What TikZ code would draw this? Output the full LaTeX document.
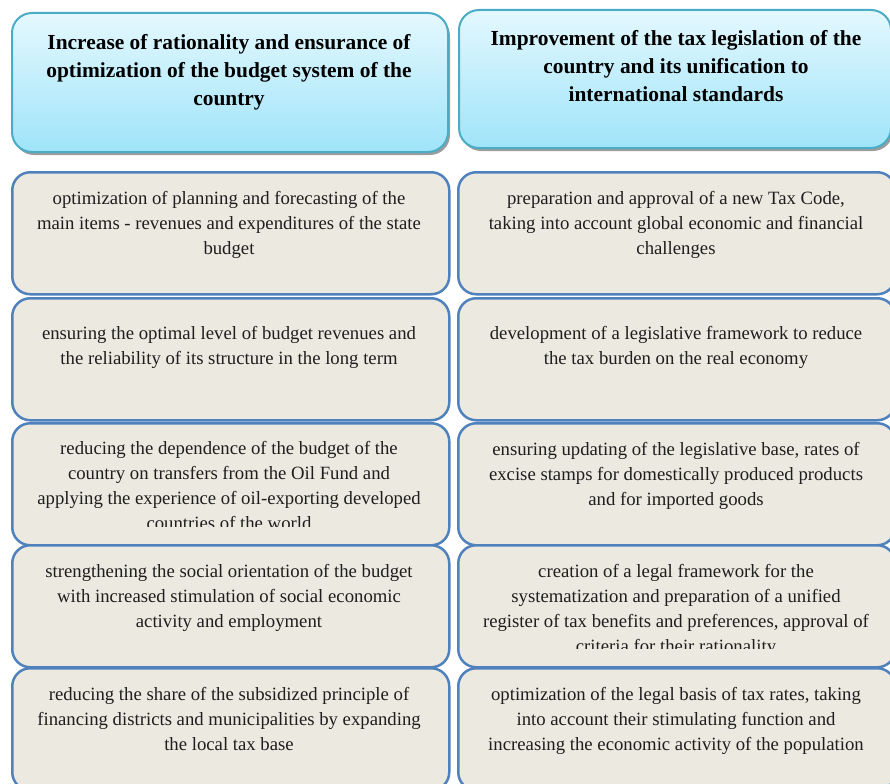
\documentclass[tikz,border=0pt]{standalone}
\usepackage{fontspec}
\setmainfont{Liberation Serif}
\usetikzlibrary{shadows}
\definecolor{hdrtop}{HTML}{E4F8FE}
\definecolor{hdrbot}{HTML}{9FE4F9}
\definecolor{hdrline}{HTML}{4BACC6}
\definecolor{boxfill}{HTML}{ECE9E0}
\definecolor{boxline}{HTML}{4F81BD}
\definecolor{shadowgray}{HTML}{9C9C9C}
\definecolor{bodyink}{HTML}{1E1E1E}
\tikzset{
  hdrbox/.style={draw=hdrline, line width=2bp, rounded corners=20bp,
    top color=hdrtop, bottom color=hdrbot,
    drop shadow={shadow xshift=2bp, shadow yshift=-3bp, fill=shadowgray, opacity=1},
    inner sep=0pt, anchor=north west},
  bodybox/.style={draw=boxline, line width=2.5bp, rounded corners=18bp,
    fill=boxfill, inner sep=0pt, anchor=north west,
    minimum width=437bp, minimum height=122bp},
  hdrtext/.style={font=\fontsize{21.5}{28}\selectfont\bfseries, align=center,
    anchor=north, inner sep=0pt, text=black},
  bodytext/.style={font=\fontsize{18.8}{25}\selectfont, align=center,
    anchor=north, inner sep=0pt, text=bodyink},
}
\begin{document}
\begin{tikzpicture}[x=1bp,y=-1bp]
\useasboundingbox (0,0) rectangle (890,784);
\clip (0,0) rectangle (890,784);
% headers
\node[hdrbox, minimum width=436bp, minimum height=139bp] (h1) at (11,12) {};
\node[hdrbox, minimum width=432bp, minimum height=138bp] (h2) at (458,9) {};
\node[hdrtext] (h1t) at (229,34) {Increase of rationality and ensurance of\\optimization of the budget system of the\\country};
\node[hdrtext] (h2t) at (676,30.5) {Improvement of the tax legislation of the\\country and its unification to\\international standards};
% left column
\node[bodybox] (l1) at (11,171) {};
\node[bodybox] (l2) at (11,297) {};
\node[bodybox] (l3) at (11,422) {};
\node[bodybox] (l4) at (11,544) {};
\node[bodybox] (l5) at (11,667) {};
% right column
\node[bodybox] (r1) at (457,171) {};
\node[bodybox] (r2) at (457,297) {};
\node[bodybox] (r3) at (457,422) {};
\node[bodybox] (r4) at (457,544) {};
\node[bodybox] (r5) at (457,667) {};
% left texts
\node[bodytext] (l1t) at (229,191.5) {optimization of planning and forecasting of the\\main items - revenues and expenditures of the state\\budget};
\node[bodytext] (l2t) at (229,326.5) {ensuring the optimal level of budget revenues and\\the reliability of its structure in the long term};
\begin{scope}
\clip (11,422) rectangle (448,526);
\node[bodytext] (l3t) at (229,441) {reducing the dependence of the budget of the\\country on transfers from the Oil Fund and\\applying the experience of oil-exporting developed\\countries of the world};
\end{scope}
\node[bodytext] (l4t) at (229,564.5) {strengthening the social orientation of the budget\\with increased stimulation of social economic\\activity and employment};
\node[bodytext] (l5t) at (229,687.5) {reducing the share of the subsidized principle of\\financing districts and municipalities by expanding\\the local tax base};
% right texts
\node[bodytext] (r1t) at (676,191.5) {preparation and approval of a new Tax Code,\\taking into account global economic and financial\\challenges};
\node[bodytext] (r2t) at (676,326.5) {development of a legislative framework to reduce\\the tax burden on the real economy};
\node[bodytext] (r3t) at (676,442) {ensuring updating of the legislative base, rates of\\excise stamps for domestically produced products\\and for imported goods};
\begin{scope}
\clip (457,544) rectangle (895,648);
\node[bodytext] (r4t) at (676,564.5) {creation of a legal framework for the\\systematization and preparation of a unified\\register of tax benefits and preferences, approval of\\criteria for their rationality};
\end{scope}
\node[bodytext] (r5t) at (676,687.5) {optimization of the legal basis of tax rates, taking\\into account their stimulating function and\\increasing the economic activity of the population};
\end{tikzpicture}
\end{document}
